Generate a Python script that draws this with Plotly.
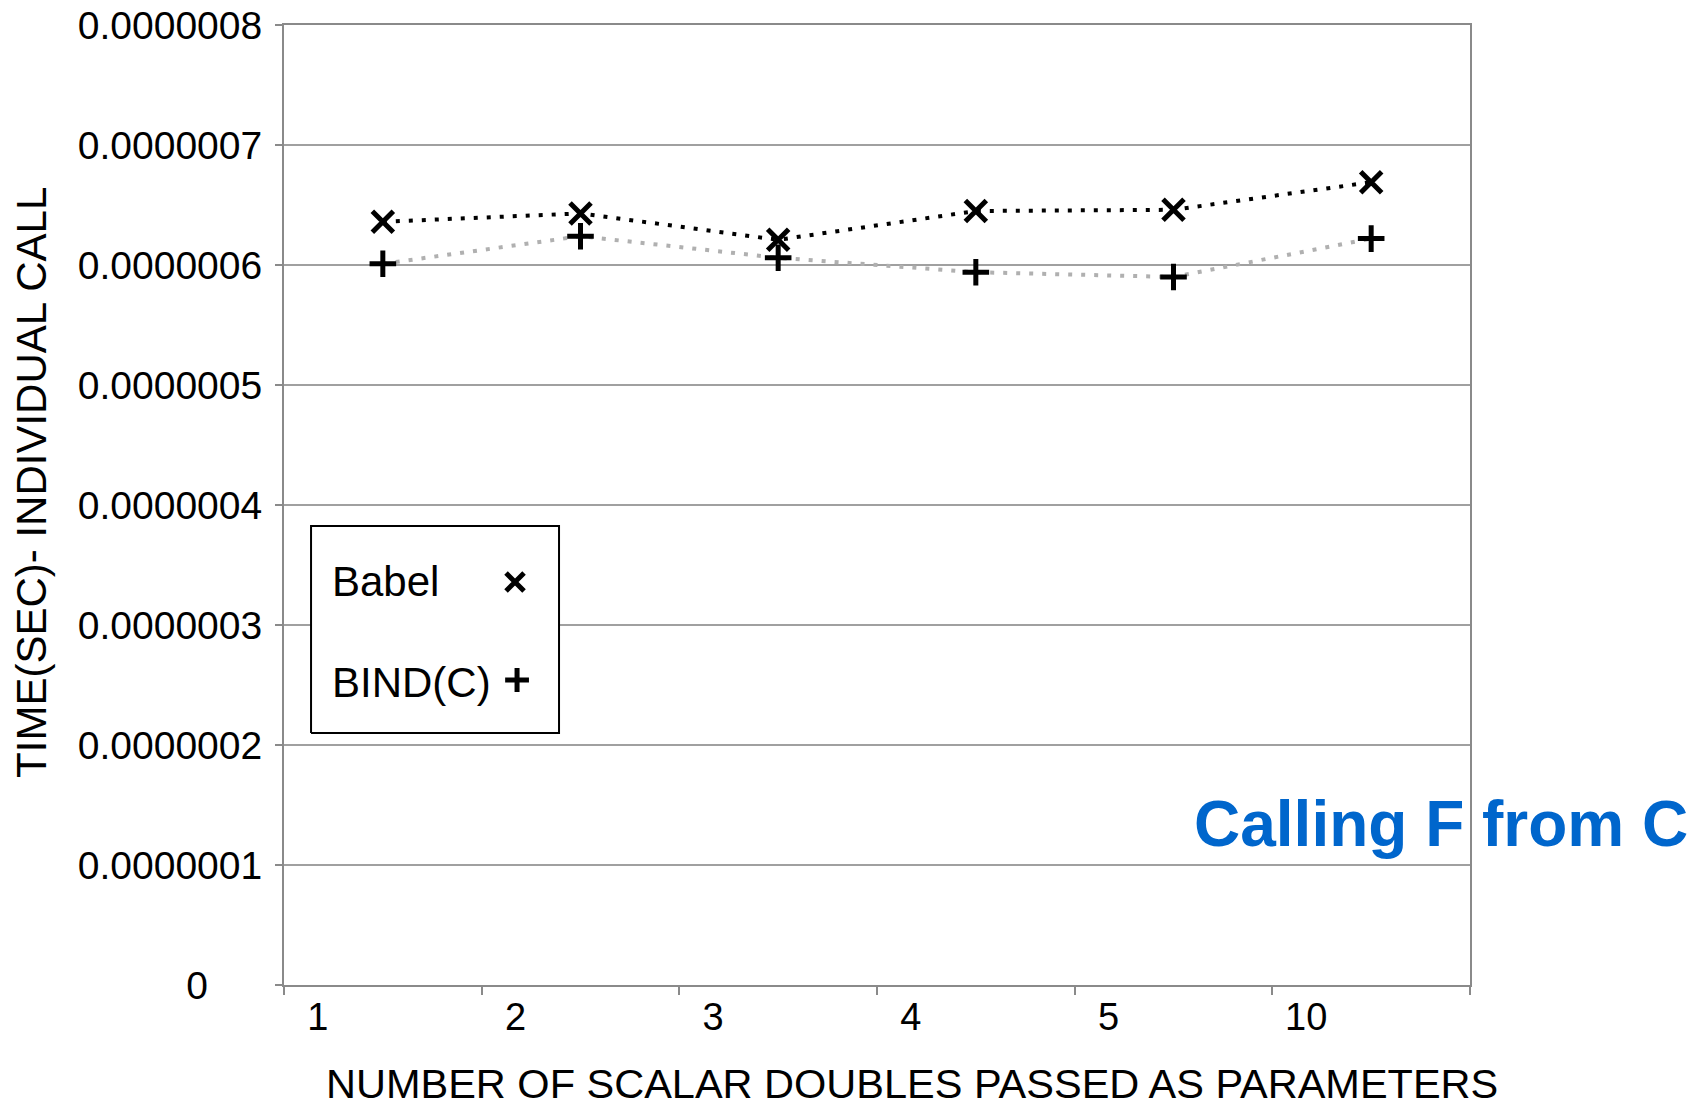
import plotly.graph_objects as go

# ---- data ----
categories = ["1", "2", "3", "4", "5", "10"]
babel = [0.636e-6, 0.643e-6, 0.621e-6, 0.645e-6, 0.646e-6, 0.669e-6]
bindc = [0.601e-6, 0.624e-6, 0.606e-6, 0.594e-6, 0.590e-6, 0.622e-6]
series_names = ["Babel", "BIND(C)"]
y_tickvals = [0, 1e-7, 2e-7, 3e-7, 4e-7, 5e-7, 6e-7, 7e-7, 8e-7]
y_ticktext = ["0" + "\u00a0" * 5, "0.0000001", "0.0000002", "0.0000003", "0.0000004",
              "0.0000005", "0.0000006", "0.0000007", "0.0000008"]
x_title = "NUMBER OF SCALAR DOUBLES PASSED AS PARAMETERS"
y_title = "TIME(SEC)- INDIVIDUAL CALL"
note_text = "Calling F from C"

FONT = "Liberation Sans, Arial, sans-serif"
GRID = "#a0a0a0"
AXIS = "#8a8a8a"

fig = go.Figure()
fig.add_trace(go.Scatter(
    x=categories, y=babel, name=series_names[0], mode="lines+markers",
    line=dict(color="black", width=4, dash="4px,9px"),
    marker=dict(symbol="x-thin", size=21, color="black", line=dict(width=5, color="black")),
    showlegend=False))
fig.add_trace(go.Scatter(
    x=categories, y=bindc, name=series_names[1], mode="lines+markers",
    line=dict(color="#b0b0b0", width=4, dash="4px,9px"),
    marker=dict(symbol="cross-thin", size=19, color="black", line=dict(width=5, color="black")),
    showlegend=False))

# legend box and keys, drawn on an overlay axis pair spanning 0..1 of the plot area
box_x = [0.0228, 0.2319, 0.2319, 0.0228, 0.0228]
box_y = [0.2625, 0.2625, 0.478, 0.478, 0.2625]
fig.add_trace(go.Scatter(
    x=box_x, y=box_y, xaxis="x2", yaxis="y2", mode="lines",
    fill="toself", fillcolor="white", line=dict(color="black", width=2),
    showlegend=False, hoverinfo="skip"))
fig.add_trace(go.Scatter(
    x=[0.1948], y=[0.4198], xaxis="x2", yaxis="y2", mode="markers",
    marker=dict(symbol="x-thin", size=18, color="black", line=dict(width=5, color="black")),
    showlegend=False, hoverinfo="skip"))
fig.add_trace(go.Scatter(
    x=[0.1965], y=[0.3177], xaxis="x2", yaxis="y2", mode="markers",
    marker=dict(symbol="cross-thin", size=17, color="black", line=dict(width=5, color="black")),
    showlegend=False, hoverinfo="skip"))

fig.update_layout(
    width=1692, height=1106,
    margin=dict(l=284, r=222, t=25, b=121, pad=0, autoexpand=False),
    paper_bgcolor="white", plot_bgcolor="white",
    font=dict(family=FONT, color="black"),
    showlegend=False,
    xaxis=dict(
        type="category", range=[-0.5, 5.5], tickson="boundaries", automargin=False,
        showgrid=False, showline=True, linecolor=AXIS, linewidth=2, mirror=True,
        ticks="outside", ticklen=8, tickwidth=2, tickcolor=AXIS,
        tickfont=dict(size=38, family=FONT, color="black"),
        ticklabelshift=-65, ticklabelstandoff=-3,
        zeroline=False,
    ),
    yaxis=dict(
        range=[0, 8e-7], tickvals=y_tickvals, ticktext=y_ticktext, automargin=False,
        showgrid=True, gridcolor=GRID, gridwidth=1.5,
        showline=True, linecolor=AXIS, linewidth=2, mirror=True,
        ticks="outside", ticklen=7, tickwidth=2, tickcolor=AXIS,
        tickfont=dict(size=39, family=FONT, color="black"),
        ticklabelstandoff=5, ticklabeloverflow="allow", zeroline=False,
    ),
    xaxis2=dict(overlaying="x", range=[0, 1], visible=False, fixedrange=True, automargin=False),
    yaxis2=dict(overlaying="y", range=[0, 1], visible=False, fixedrange=True, automargin=False),
    annotations=[
        dict(text=x_title, xref="paper", yref="paper", x=0.5295, y=-0.1029,
             xanchor="center", yanchor="middle", showarrow=False,
             font=dict(size=41.5, family=FONT, color="black")),
        dict(text=y_title, xref="paper", yref="paper", x=-0.2125, y=0.524,
             xanchor="center", yanchor="middle", showarrow=False, textangle=-90,
             font=dict(size=42, family=FONT, color="black")),
        dict(text=series_names[0], xref="paper", yref="paper", x=0.0384, y=0.4208,
             xanchor="left", yanchor="middle", showarrow=False,
             font=dict(size=42, family=FONT, color="black")),
        dict(text=series_names[1], xref="paper", yref="paper", x=0.0384, y=0.315,
             xanchor="left", yanchor="middle", showarrow=False,
             font=dict(size=42, family=FONT, color="black")),
        dict(text="<b>" + note_text + "</b>", xref="paper", yref="paper", x=0.7656, y=0.1677,
             xanchor="left", yanchor="middle", showarrow=False,
             font=dict(size=64, family=FONT, color="#0066CC")),
    ],
)

fig.write_html("out.html", config={"displayModeBar": False},
               post_script="document.body.style.margin='0';")
